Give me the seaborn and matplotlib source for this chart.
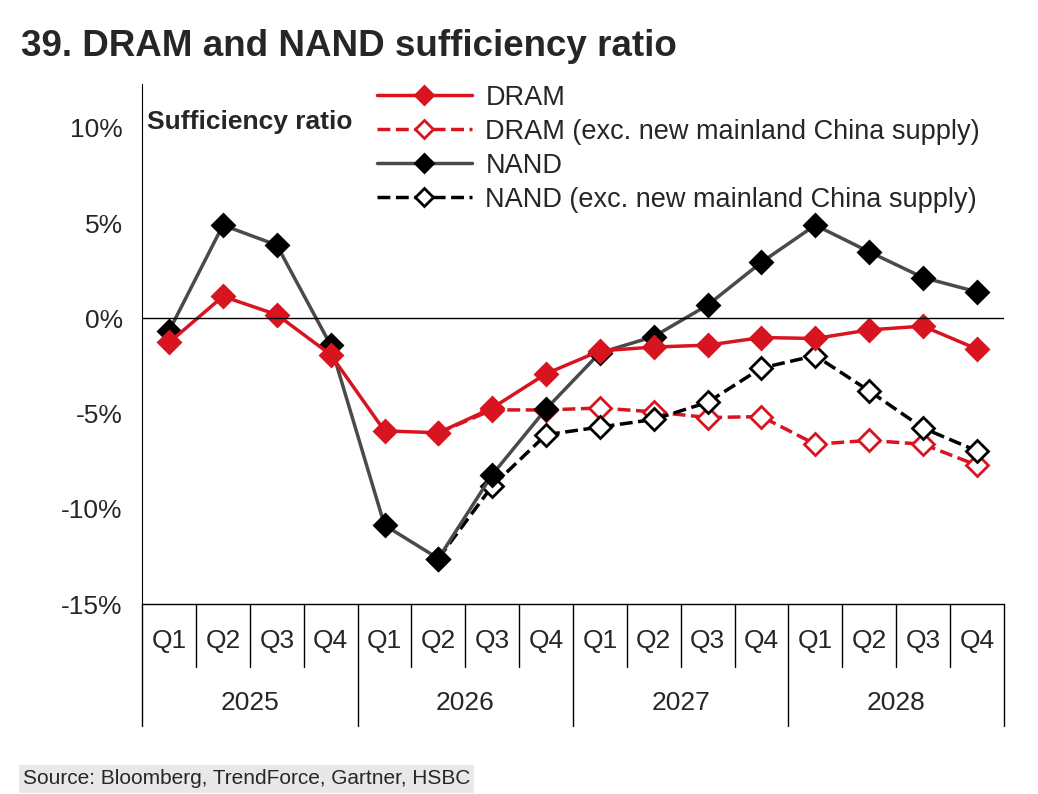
import matplotlib
matplotlib.use("Agg")
import matplotlib.pyplot as plt
import seaborn as sns
import numpy as np
import pandas as pd
from matplotlib.lines import Line2D

quarters = ["Q1", "Q2", "Q3", "Q4"] * 4
years = ["2025", "2026", "2027", "2028"]
dram = [-1.26, 1.16, 0.2, -1.9, -5.9, -6.0, -4.7, -2.9, -1.7, -1.5, -1.4, -1.0, -1.05, -0.6, -0.4, -1.6]
dram_exc = [np.nan]*5 + [-6.0, -4.8, -4.8, -4.7, -4.9, -5.2, -5.15, -6.6, -6.4, -6.6, -7.7]
nand = [-0.65, 4.9, 3.85, -1.4, -10.85, -12.6, -8.2, -4.75, -1.8, -0.95, 0.7, 2.95, 4.9, 3.5, 2.15, 1.4]
nand_exc = [np.nan]*5 + [-12.6, -8.8, -6.1, -5.7, -5.3, -4.4, -2.6, -1.95, -3.8, -5.75, -6.95]

sns.set_style("white")
plt.rcParams['font.family'] = ['Liberation Sans', 'DejaVu Sans']
fig = plt.figure(figsize=(10.38, 7.94), dpi=100)
ax = fig.add_axes([0.137, 0.239, 0.830, 0.655])
x = np.arange(16)
red = "#d7141f"; dark = "#4a4a4a"
specs = [
    ("DRAM (exc. new mainland China supply)", dram_exc, red, "--", "white"),
    ("NAND (exc. new mainland China supply)", nand_exc, "black", "--", "white"),
    ("NAND", nand, dark, "-", "black"),
    ("DRAM", dram, red, "-", red),
]
handles = {}
for name, vals, c, ls, mfc in specs:
    msk = ~np.isnan(np.array(vals, dtype=float))
    df = pd.DataFrame({"x": x[msk], "y": np.array(vals)[msk]})
    sns.lineplot(data=df, x="x", y="y", ax=ax, color=c, linestyle=ls, linewidth=2.5,
                 marker="D", markersize=11, markerfacecolor=mfc,
                 markeredgecolor=c if mfc == "white" else mfc, markeredgewidth=2)
    handles[name] = ax.lines[-1]
order = ["DRAM", "DRAM (exc. new mainland China supply)", "NAND", "NAND (exc. new mainland China supply)"]
hl = []
for name in order:
    h = handles[name]
    hl.append(Line2D([], [], color=h.get_color(), linestyle=h.get_linestyle(),
                     linewidth=2.5, marker="D", markersize=9, markerfacecolor=h.get_markerfacecolor(),
                     markeredgecolor=h.get_markeredgecolor(), markeredgewidth=2))
ax.legend(hl, order, loc="upper left", bbox_to_anchor=(0.26, 1.02), frameon=False, fontsize=19.5,
          handlelength=3.5, labelspacing=0.3, handletextpad=0.5, borderaxespad=0)
ax.set_xlim(-0.5, 15.5)
ax.set_ylim(-15, 12.3)
ax.set_yticks([-15, -10, -5, 0, 5, 10])
ax.set_yticklabels(["-15%", "-10%", "-5%", "0%", "5%", "10%"], fontsize=19)
ax.axhline(0, color="black", linewidth=1)
ax.set_xticks([])
ax.set_xlabel(""); ax.set_ylabel("")
for s in ["top", "right", "bottom"]:
    ax.spines[s].set_visible(False)
ax.spines["left"].set_color("black")
ax.tick_params(axis="y", length=0, pad=14)
ax.text(0.005, 0.95, "Sufficiency ratio", transform=ax.transAxes, fontsize=19, fontweight="bold", va="top")
tr = ax.get_xaxis_transform()
for i in range(17):
    yb = -0.12 if i % 4 else -0.235
    ax.plot([i - 0.5, i - 0.5], [0, yb], transform=tr, color="black", lw=1, clip_on=False)
ax.plot([-0.5, 15.5], [0, 0], transform=tr, color="black", lw=1, clip_on=False)
for i, q in enumerate(quarters):
    ax.text(i, -0.07, q, transform=tr, ha="center", va="center", fontsize=19)
for j, yv in enumerate(years):
    ax.text(j * 4 + 1.5, -0.19, yv, transform=tr, ha="center", va="center", fontsize=19)
fig.text(0.02, 0.93, "39. DRAM and NAND sufficiency ratio", fontsize=26.5, fontweight="bold")
fig.text(0.022, 0.012, "Source: Bloomberg, TrendForce, Gartner, HSBC", fontsize=15,
         bbox=dict(facecolor="#e8e8e8", edgecolor="none", pad=3))
fig.savefig("out.png", dpi=100)
